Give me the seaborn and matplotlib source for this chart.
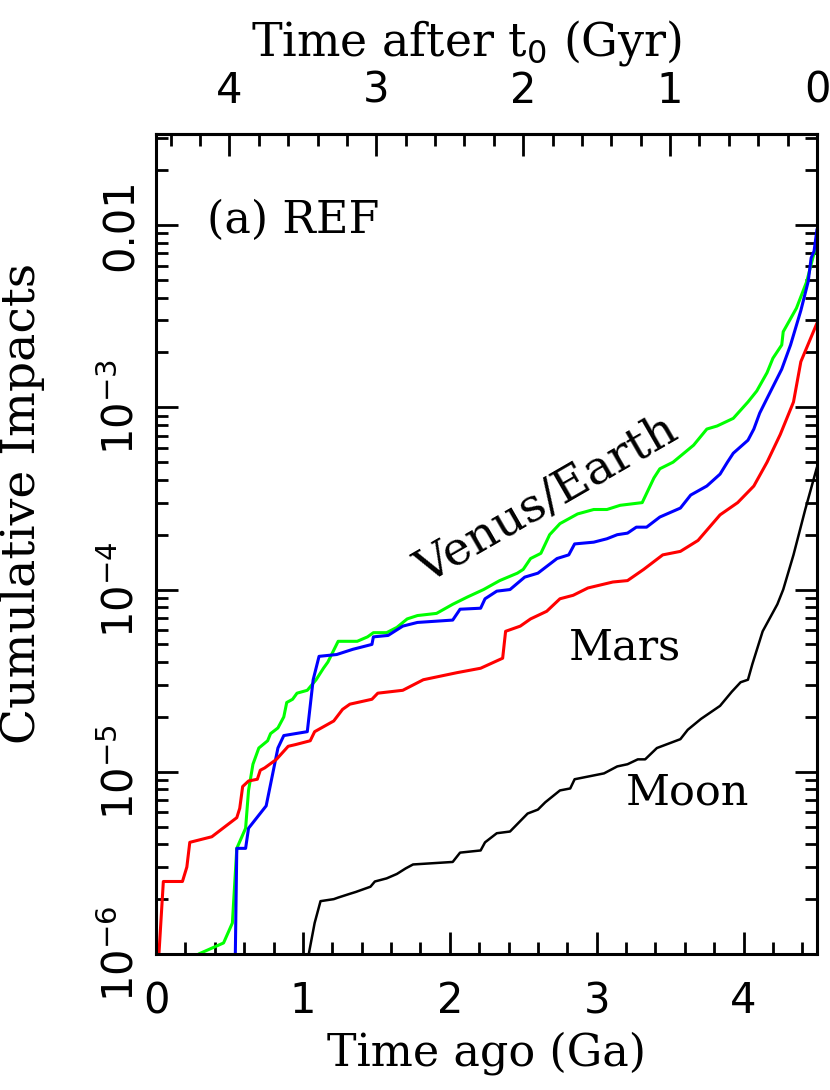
import matplotlib
matplotlib.use("Agg")
import matplotlib.pyplot as plt
import seaborn as sns
from matplotlib import font_manager
from matplotlib.ticker import MultipleLocator, FixedLocator, LogLocator, NullFormatter

# Mars (red)
mars_t = [0.02, 0.05, 0.18, 0.21, 0.23, 0.38, 0.47, 0.55, 0.57, 0.59,
          0.63, 0.69, 0.71, 0.74, 0.82, 0.90, 0.95, 1.05, 1.08, 1.21,
          1.27, 1.32, 1.47, 1.51, 1.68, 1.82, 2.05, 2.21, 2.36, 2.38,
          2.48, 2.55, 2.66, 2.75, 2.84, 2.94, 3.11, 3.21, 3.32, 3.45,
          3.57, 3.69, 3.84, 3.96, 4.07, 4.16, 4.25, 4.34, 4.39, 4.50]
mars_n = [1.0e-6, 2.5e-6, 2.5e-6, 3.0e-6, 4.1e-6, 4.4e-6, 5.0e-6, 5.6e-6, 6.3e-6, 8.3e-6,
          8.9e-6, 9.1e-6, 1.02e-5, 1.05e-5, 1.17e-5, 1.38e-5, 1.41e-5, 1.48e-5, 1.66e-5, 1.9e-5,
          2.2e-5, 2.35e-5, 2.5e-5, 2.7e-5, 2.8e-5, 3.2e-5, 3.5e-5, 3.7e-5, 4.2e-5, 5.9e-5,
          6.3e-5, 6.9e-5, 7.6e-5, 8.9e-5, 9.3e-5, 1.02e-4, 1.10e-4, 1.12e-4, 1.29e-4, 1.55e-4,
          1.62e-4, 1.86e-4, 2.57e-4, 3.0e-4, 3.7e-4, 5.0e-4, 7.1e-4, 1.07e-3, 1.78e-3, 2.9e-3]

# Venus (green)
venus_t = [0.29, 0.46, 0.52, 0.55, 0.61, 0.63, 0.66, 0.70, 0.76, 0.78,
           0.83, 0.87, 0.89, 0.93, 0.96, 1.03, 1.09, 1.14, 1.17, 1.24,
           1.37, 1.44, 1.48, 1.57, 1.64, 1.71, 1.78, 1.91, 2.02, 2.12,
           2.23, 2.34, 2.46, 2.50, 2.55, 2.62, 2.68, 2.75, 2.87, 2.98,
           3.07, 3.16, 3.31, 3.39, 3.43, 3.52, 3.66, 3.75, 3.82, 3.93,
           4.03, 4.09, 4.16, 4.20, 4.26, 4.27, 4.36, 4.43, 4.50]
venus_n = [1.0e-6, 1.15e-6, 1.48e-6, 3.8e-6, 4.9e-6, 7.9e-6, 1.10e-5, 1.35e-5, 1.48e-5, 1.62e-5,
           1.74e-5, 2.0e-5, 2.4e-5, 2.5e-5, 2.7e-5, 2.8e-5, 3.2e-5, 3.7e-5, 4.0e-5, 5.2e-5,
           5.2e-5, 5.5e-5, 5.8e-5, 5.8e-5, 6.2e-5, 6.9e-5, 7.2e-5, 7.4e-5, 8.3e-5, 9.1e-5,
           1.0e-4, 1.12e-4, 1.23e-4, 1.29e-4, 1.48e-4, 1.58e-4, 2.0e-4, 2.3e-4, 2.6e-4, 2.75e-4,
           2.75e-4, 2.9e-4, 3.0e-4, 4.1e-4, 4.6e-4, 5.0e-4, 6.2e-4, 7.6e-4, 7.9e-4, 8.7e-4,
           1.07e-3, 1.23e-3, 1.55e-3, 1.86e-3, 2.2e-3, 2.6e-3, 3.5e-3, 4.9e-3, 8.1e-3]

# Earth (blue)
earth_t = [0.54, 0.55, 0.61, 0.63, 0.75, 0.83, 0.87, 0.95, 1.03, 1.07,
           1.11, 1.23, 1.34, 1.47, 1.48, 1.58, 1.68, 1.78, 2.02, 2.07,
           2.21, 2.24, 2.32, 2.41, 2.51, 2.60, 2.73, 2.81, 2.85, 2.98,
           3.07, 3.14, 3.21, 3.27, 3.34, 3.43, 3.57, 3.64, 3.75, 3.84,
           3.89, 3.93, 4.03, 4.07, 4.11, 4.16, 4.26, 4.32, 4.39, 4.44,
           4.46, 4.48, 4.50]
earth_n = [1.0e-6, 3.8e-6, 3.8e-6, 4.9e-6, 6.5e-6, 1.35e-5, 1.58e-5, 1.62e-5, 1.66e-5, 3.2e-5,
           4.3e-5, 4.4e-5, 4.7e-5, 5.0e-5, 5.5e-5, 5.6e-5, 6.3e-5, 6.6e-5, 6.8e-5, 7.8e-5,
           7.9e-5, 8.9e-5, 9.8e-5, 1.0e-4, 1.17e-4, 1.23e-4, 1.48e-4, 1.55e-4, 1.78e-4, 1.82e-4,
           1.9e-4, 2.0e-4, 2.04e-4, 2.2e-4, 2.2e-4, 2.5e-4, 2.8e-4, 3.3e-4, 3.7e-4, 4.3e-4,
           5.0e-4, 5.6e-4, 6.6e-4, 7.6e-4, 9.3e-4, 1.12e-3, 1.62e-3, 2.2e-3, 3.4e-3, 4.9e-3,
           6.6e-3, 7.2e-3, 9.5e-3]

# Moon (black)
moon_t = [1.04, 1.08, 1.12, 1.21, 1.24, 1.32, 1.36, 1.46, 1.49, 1.57,
          1.64, 1.70, 1.75, 2.02, 2.07, 2.21, 2.24, 2.32, 2.41, 2.53,
          2.60, 2.65, 2.75, 2.82, 2.85, 3.05, 3.14, 3.21, 3.28, 3.33,
          3.41, 3.57, 3.62, 3.71, 3.84, 3.92, 3.98, 4.03, 4.06, 4.13,
          4.23, 4.27, 4.34, 4.42, 4.50]
moon_n = [1.0e-6, 1.48e-6, 1.95e-6, 2.0e-6, 2.04e-6, 2.14e-6, 2.19e-6, 2.34e-6, 2.5e-6, 2.6e-6,
          2.75e-6, 2.95e-6, 3.1e-6, 3.2e-6, 3.6e-6, 3.7e-6, 4.1e-6, 4.6e-6, 4.7e-6, 5.9e-6,
          6.2e-6, 6.8e-6, 7.9e-6, 8.1e-6, 9.1e-6, 9.8e-6, 1.07e-5, 1.10e-5, 1.17e-5, 1.17e-5,
          1.35e-5, 1.51e-5, 1.70e-5, 1.95e-5, 2.3e-5, 2.75e-5, 3.1e-5, 3.2e-5, 3.9e-5, 5.9e-5,
          8.3e-5, 1.0e-4, 1.55e-4, 2.75e-4, 4.7e-4]

y_ticks = [1e-6, 1e-5, 1e-4, 1e-3, 1e-2]
y_ticklabels = ["$10^{-6}$", "$10^{-5}$", "$10^{-4}$", "$10^{-3}$", "0.01"]
x_ticks = [0, 1, 2, 3, 4]
top_ticks = [0, 1, 2, 3, 4]

# fonts and colours
sns.set_theme(style="ticks")
installed = {f.name for f in font_manager.fontManager.ttflist}
narrow = "Liberation Sans Narrow" if "Liberation Sans Narrow" in installed else "DejaVu Sans"
serif = "DejaVu Serif"
plt.rcParams["font.family"] = [narrow, "DejaVu Sans"]
plt.rcParams["mathtext.fontset"] = "custom"
plt.rcParams["mathtext.rm"] = narrow
plt.rcParams["mathtext.it"] = narrow
plt.rcParams["mathtext.bf"] = narrow
for key in ["text.color", "axes.labelcolor", "xtick.color", "ytick.color", "axes.edgecolor"]:
    plt.rcParams[key] = "black"

fig = plt.figure(figsize=(8.3, 10.9), dpi=100)
ax = fig.add_axes([156 / 830, 1 - 954 / 1090, (817 - 156) / 830, (954 - 134) / 1090])

series = [
    (venus_t, venus_n, "#00ff00", 2.2),
    (earth_t, earth_n, "#0000ff", 2.2),
    (mars_t, mars_n, "#ff0000", 2.2),
    (moon_t, moon_n, "black", 1.8),
]
for t, n, col, lw in series:
    sns.lineplot(x=t, y=n, color=col, linewidth=lw, ax=ax, sort=False, estimator=None)

ax.set_yscale("log")
ax.set_xlim(0, 4.5)
ax.set_ylim(1e-6, 10 ** -1.5)

# ticks
ax.xaxis.set_major_locator(FixedLocator(x_ticks))
ax.xaxis.set_minor_locator(MultipleLocator(0.2))
ax.yaxis.set_major_locator(FixedLocator(y_ticks))
ax.yaxis.set_minor_locator(LogLocator(base=10, subs=range(2, 10)))
ax.yaxis.set_minor_formatter(NullFormatter())
ax.set_yticklabels(y_ticklabels, rotation=90, va="center")
ax.tick_params(which="both", direction="in", top=False, right=True, width=2, color="black")
ax.tick_params(which="major", length=16)
ax.tick_params(which="minor", length=8.5)
ax.tick_params(axis="x", which="major", labelsize=30, pad=19)
ax.tick_params(axis="y", which="major", labelsize=30, pad=10)

secax = ax.secondary_xaxis("top", functions=(lambda x: 4.5 - x, lambda x: 4.5 - x))
secax.xaxis.set_major_locator(FixedLocator(top_ticks))
secax.xaxis.set_minor_locator(MultipleLocator(0.2))
secax.tick_params(which="both", direction="in", width=2, color="black")
secax.tick_params(which="major", length=16, labelsize=30, pad=16)
secax.tick_params(which="minor", length=8.5)
secax.spines["top"].set_linewidth(2.2)

for sp in ax.spines.values():
    sp.set_linewidth(2.2)
    sp.set_color("black")

ax.set_xlabel("Time ago (Ga)", family=serif, size=32)
ax.xaxis.set_label_coords(0.5, -0.094)
ax.set_ylabel("Cumulative Impacts", family=serif, size=34)
ax.yaxis.set_label_coords(-0.168, 0.55)
secax.set_xlabel("Time after t$_0$ (Gyr)", family=serif, size=33)
secax.xaxis.set_label_coords(0.47, 1.096, transform=ax.transAxes)

# annotations
ax.text(0.35, 1.06e-2, "(a) REF", family=serif, size=32, ha="left", va="center")
ax.text(2.66, 3.1e-4, "Venus/Earth", family=serif, size=34, ha="center", va="center",
        rotation=30, rotation_mode="anchor")
ax.text(3.19, 4.8e-5, "Mars", family=serif, size=31, ha="center", va="center")
ax.text(3.62, 7.7e-6, "Moon", family=serif, size=31, ha="center", va="center")

fig.savefig("out.png", dpi=100)
